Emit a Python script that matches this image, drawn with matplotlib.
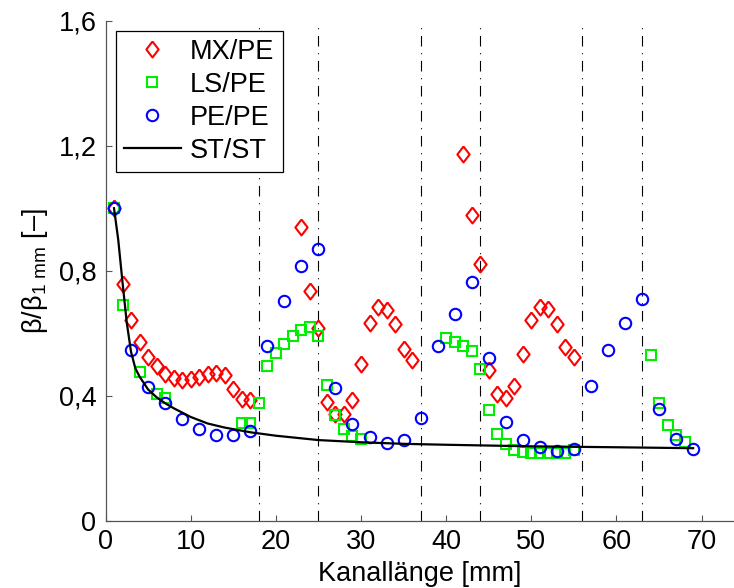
import matplotlib
matplotlib.use("Agg")
import matplotlib.pyplot as plt
from matplotlib.ticker import FixedLocator, FixedFormatter

plt.rcParams['font.family'] = ['Liberation Sans', 'DejaVu Sans']
plt.rcParams['mathtext.fontset'] = 'custom'
plt.rcParams['mathtext.rm'] = 'Liberation Sans'

# --- data -------------------------------------------------------------
mx_x = [1, 2, 3, 4, 5, 6, 7, 8, 9, 10, 11, 12, 13, 14, 15, 16, 17,
        23, 24, 25, 26, 27, 28, 29, 30, 31, 32, 33, 34, 35, 36,
        42, 43, 44, 45, 46, 47, 48, 49, 50, 51, 52, 53, 54, 55]
mx_y = [1.0, 0.757, 0.641, 0.572, 0.524, 0.494, 0.469, 0.456, 0.451, 0.452, 0.460, 0.469, 0.473, 0.465, 0.422, 0.390, 0.385,
        0.940, 0.734, 0.618, 0.380, 0.343, 0.340, 0.385, 0.502, 0.634, 0.684, 0.675, 0.631, 0.550, 0.515,
        1.173, 0.978, 0.821, 0.483, 0.405, 0.394, 0.432, 0.532, 0.641, 0.684, 0.679, 0.631, 0.556, 0.524]

ls_x = [1, 2, 4, 6, 7, 16, 17,
        18, 19, 20, 21, 22, 23, 24, 25, 26, 27, 28, 29, 30,
        40, 41, 42, 43, 44, 45, 46, 47, 48, 49, 50, 51, 52, 53, 54, 55,
        64, 65, 66, 67, 68]
ls_y = [1.0, 0.690, 0.476, 0.404, 0.394, 0.313, 0.313,
        0.377, 0.495, 0.538, 0.564, 0.591, 0.609, 0.620, 0.591, 0.435, 0.339, 0.292, 0.272, 0.260,
        0.586, 0.572, 0.559, 0.543, 0.484, 0.355, 0.278, 0.244, 0.225, 0.220, 0.216, 0.216, 0.216, 0.216, 0.216, 0.225,
        0.529, 0.376, 0.305, 0.275, 0.253]

pe_x = [1, 3, 5, 7, 9, 11, 13, 15, 17, 19, 21, 23, 25, 27, 29, 31, 33, 35,
        37, 39, 41, 43, 45, 47, 49, 51, 53, 55, 57, 59, 61, 63, 65, 67, 69]
pe_y = [1.0, 0.547, 0.427, 0.376, 0.326, 0.294, 0.273, 0.273, 0.288, 0.558, 0.703, 0.814, 0.871, 0.424, 0.309, 0.269, 0.249, 0.257,
        0.330, 0.558, 0.663, 0.764, 0.520, 0.317, 0.259, 0.235, 0.222, 0.230, 0.430, 0.545, 0.633, 0.708, 0.358, 0.262, 0.228]

st_x = [1, 1.5, 2, 2.5, 3, 3.5, 4, 5, 6, 7, 8, 10, 12, 14, 17, 20, 25, 30, 35, 40, 50, 60, 69]
st_y = [1.0, 0.898, 0.762, 0.633, 0.540, 0.488, 0.461, 0.420, 0.395, 0.376, 0.360, 0.332, 0.311, 0.298,
        0.283, 0.272, 0.258, 0.251, 0.246, 0.243, 0.238, 0.235, 0.232]

boundaries = [18, 25, 37, 44, 56, 63]

y_ticks = [0, 0.4, 0.8, 1.2, 1.6]
y_ticklabels = ['0', '0,4', '0,8', '1,2', '1,6']
x_ticks = [0, 10, 20, 30, 40, 50, 60, 70]

labels = ['MX/PE', 'LS/PE', 'PE/PE', 'ST/ST']

# --- figure -----------------------------------------------------------
W, H = 734, 588
fig = plt.figure(figsize=(W / 100, H / 100), dpi=100)
left, bottom, top = 105.5, 520.7, 20.7
ax = fig.add_axes([left / W, (H - bottom) / H, 1 - left / W, (bottom - top) / H])

for xb in boundaries:
    ax.axvline(xb, color='black', lw=0.8, dashes=[9.5, 6.0, 1.0, 6.0], zorder=1)

diamond = [(0, 1), (0.77, 0), (0, -1), (-0.77, 0), (0, 1)]
ax.plot(mx_x, mx_y, ls='none', marker=diamond, ms=11.5, mfc='none', mec='#ff0000',
        mew=1.5, label=labels[0], zorder=3)
ax.plot(ls_x, ls_y, ls='none', marker='s', ms=7.0, mfc='none', mec='#00ee00',
        mew=1.5, label=labels[1], zorder=4)
ax.plot(pe_x, pe_y, ls='none', marker='o', ms=8.2, mfc='none', mec='#0000ff',
        mew=1.5, label=labels[2], zorder=5)
ax.plot(st_x, st_y, color='black', lw=1.6, label=labels[3], zorder=6)

ax.set_xlim(0, 73.8)
ax.set_ylim(0, 1.6)
ax.xaxis.set_major_locator(FixedLocator(x_ticks))
ax.yaxis.set_major_locator(FixedLocator(y_ticks))
ax.yaxis.set_major_formatter(FixedFormatter(y_ticklabels))

for side in ('top', 'right'):
    ax.spines[side].set_visible(False)
for side in ('left', 'bottom'):
    ax.spines[side].set_color('#555555')
    ax.spines[side].set_linewidth(0.9)

ax.tick_params(direction='in', length=4.5, width=0.8, color='#555555',
               labelcolor='black', labelsize=19.5)
ax.tick_params(axis='y', pad=6.5)
ax.tick_params(axis='x', pad=6)

ax.set_xlabel('Kanallänge [mm]', fontsize=19.5, labelpad=4)
ax.set_ylabel(r'β/β$_{\mathregular{1\ mm}}$ [–]', fontsize=19.5, labelpad=6)

leg = ax.legend(loc='upper left', bbox_to_anchor=(115.7 / W, 1 - 30.7 / H),
                bbox_transform=fig.transFigure, borderaxespad=0, fontsize=19.5,
                frameon=True, fancybox=False, shadow=False, framealpha=1,
                edgecolor='black', handlelength=2.1, handletextpad=0.35,
                borderpad=0.3, labelspacing=0.26, numpoints=1)
leg.get_frame().set_linewidth(0.9)

fig.savefig('out.png', dpi=100)
